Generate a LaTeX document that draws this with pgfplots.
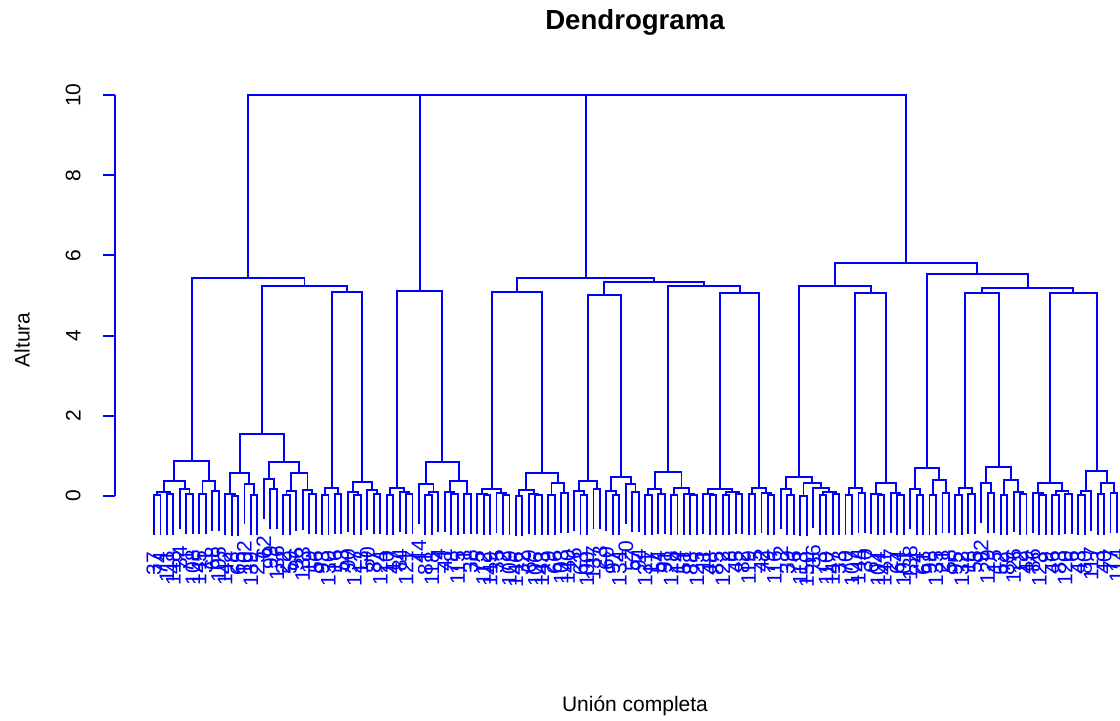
\documentclass[border=0pt]{standalone}
\usepackage{fontspec}
\setmainfont{Liberation Sans}
\usepackage{pgfplots}
\pgfplotsset{compat=1.18}
\definecolor{dendblue}{RGB}{0,0,255}

\begin{document}
\begin{tikzpicture}[x=0.5pt,y=0.5pt]
\path[use as bounding box] (0,0) rectangle (1120,720);
\clip (0,0) rectangle (1120,720);
\begin{axis}[
  at={(57.5pt,112pt)}, anchor=south west,
  scale only axis, width=502.5pt, height=200.5pt,
  xmin=-5.034, xmax=150.47, ymin=0, ymax=10,
  clip=false,
  axis x line=none,
  axis y line*=left,
  y axis line style={dendblue, line width=0.95pt},
  ytick={0,2,4,6,8,10},
  tick align=outside,
  major tick length=6pt,
  ytick style={dendblue, line width=0.95pt},
  yticklabel style={rotate=90, anchor=south, font=\fontsize{10.5}{12}\selectfont, inner sep=0pt},
  yticklabel shift=11pt,
  /pgf/number format/assume math mode=true,
]
% every merge is one U: left child (x,h), up to the merge height, across, down to the right child
\addplot[dendblue, line width=0.95pt, mark=none, unbounded coords=jump, forget plot]
table[row sep=\\] {
x y\\
1 -0.98\\ 1 0.02\\ 2 0.02\\ 2 -0.98\\ nan nan\\
3 -0.96\\ 3 0.04\\ 4 0.04\\ 4 -0.96\\ nan nan\\
1.5 0.02\\ 1.5 0.10\\ 3.5 0.10\\ 3.5 0.04\\ nan nan\\
6 -0.94\\ 6 0.06\\ 7 0.06\\ 7 -0.94\\ nan nan\\
5 -0.83\\ 5 0.17\\ 6.5 0.17\\ 6.5 0.06\\ nan nan\\
2.5 0.10\\ 2.5 0.37\\ 5.75 0.37\\ 5.75 0.17\\ nan nan\\
8 -0.95\\ 8 0.05\\ 9 0.05\\ 9 -0.95\\ nan nan\\
10 -0.87\\ 10 0.13\\ 11 0.13\\ 11 -0.87\\ nan nan\\
8.5 0.05\\ 8.5 0.37\\ 10.5 0.37\\ 10.5 0.13\\ nan nan\\
4.125 0.37\\ 4.125 0.87\\ 9.5 0.87\\ 9.5 0.37\\ nan nan\\
13 -0.99\\ 13 0.01\\ 14 0.01\\ 14 -0.99\\ nan nan\\
12 -0.96\\ 12 0.04\\ 13.5 0.04\\ 13.5 0.01\\ nan nan\\
16 -0.98\\ 16 0.02\\ 17 0.02\\ 17 -0.98\\ nan nan\\
15 -0.70\\ 15 0.30\\ 16.5 0.30\\ 16.5 0.02\\ nan nan\\
12.75 0.04\\ 12.75 0.57\\ 15.75 0.57\\ 15.75 0.30\\ nan nan\\
19 -0.83\\ 19 0.17\\ 20 0.17\\ 20 -0.83\\ nan nan\\
18 -0.58\\ 18 0.42\\ 19.5 0.42\\ 19.5 0.17\\ nan nan\\
21 -0.97\\ 21 0.03\\ 22 0.03\\ 22 -0.97\\ nan nan\\
21.5 0.03\\ 21.5 0.12\\ 23 0.12\\ 23 -0.88\\ nan nan\\
25 -0.95\\ 25 0.05\\ 26 0.05\\ 26 -0.95\\ nan nan\\
24 -0.85\\ 24 0.15\\ 25.5 0.15\\ 25.5 0.05\\ nan nan\\
22.25 0.12\\ 22.25 0.57\\ 24.75 0.57\\ 24.75 0.15\\ nan nan\\
18.75 0.42\\ 18.75 0.84\\ 23.5 0.84\\ 23.5 0.57\\ nan nan\\
14.25 0.57\\ 14.25 1.55\\ 21.125 1.55\\ 21.125 0.84\\ nan nan\\
27 -0.97\\ 27 0.03\\ 28 0.03\\ 28 -0.97\\ nan nan\\
29 -0.94\\ 29 0.06\\ 30 0.06\\ 30 -0.94\\ nan nan\\
27.5 0.03\\ 27.5 0.19\\ 29.5 0.19\\ 29.5 0.06\\ nan nan\\
32 -0.97\\ 32 0.03\\ 33 0.03\\ 33 -0.97\\ nan nan\\
31 -0.90\\ 31 0.10\\ 32.5 0.10\\ 32.5 0.03\\ nan nan\\
35 -0.95\\ 35 0.05\\ 36 0.05\\ 36 -0.95\\ nan nan\\
34 -0.86\\ 34 0.14\\ 35.5 0.14\\ 35.5 0.05\\ nan nan\\
31.75 0.10\\ 31.75 0.34\\ 34.75 0.34\\ 34.75 0.14\\ nan nan\\
28.5 0.19\\ 28.5 5.09\\ 33.25 5.09\\ 33.25 0.34\\ nan nan\\
17.6875 1.55\\ 17.6875 5.24\\ 30.875 5.24\\ 30.875 5.09\\ nan nan\\
6.8125 0.87\\ 6.8125 5.44\\ 24.28125 5.44\\ 24.28125 5.24\\ nan nan\\
37 -0.97\\ 37 0.03\\ 38 0.03\\ 38 -0.97\\ nan nan\\
40 -0.95\\ 40 0.05\\ 41 0.05\\ 41 -0.95\\ nan nan\\
39 -0.90\\ 39 0.10\\ 40.5 0.10\\ 40.5 0.05\\ nan nan\\
37.5 0.03\\ 37.5 0.20\\ 39.75 0.20\\ 39.75 0.10\\ nan nan\\
43 -0.98\\ 43 0.02\\ 44 0.02\\ 44 -0.98\\ nan nan\\
43.5 0.02\\ 43.5 0.10\\ 45 0.10\\ 45 -0.90\\ nan nan\\
42 -0.69\\ 42 0.31\\ 44.25 0.31\\ 44.25 0.10\\ nan nan\\
47 -0.96\\ 47 0.04\\ 48 0.04\\ 48 -0.96\\ nan nan\\
46 -0.90\\ 46 0.10\\ 47.5 0.10\\ 47.5 0.04\\ nan nan\\
49 -0.94\\ 49 0.06\\ 50 0.06\\ 50 -0.94\\ nan nan\\
46.75 0.10\\ 46.75 0.37\\ 49.5 0.37\\ 49.5 0.06\\ nan nan\\
43.125 0.31\\ 43.125 0.84\\ 48.125 0.84\\ 48.125 0.37\\ nan nan\\
38.625 0.20\\ 38.625 5.11\\ 45.625 5.11\\ 45.625 0.84\\ nan nan\\
52 -0.98\\ 52 0.02\\ 53 0.02\\ 53 -0.98\\ nan nan\\
51 -0.95\\ 51 0.05\\ 52.5 0.05\\ 52.5 0.02\\ nan nan\\
55 -0.97\\ 55 0.03\\ 56 0.03\\ 56 -0.97\\ nan nan\\
54 -0.93\\ 54 0.07\\ 55.5 0.07\\ 55.5 0.03\\ nan nan\\
51.75 0.05\\ 51.75 0.17\\ 54.75 0.17\\ 54.75 0.07\\ nan nan\\
57 -0.99\\ 57 0.01\\ 58 0.01\\ 58 -0.99\\ nan nan\\
60 -0.98\\ 60 0.02\\ 61 0.02\\ 61 -0.98\\ nan nan\\
59 -0.94\\ 59 0.06\\ 60.5 0.06\\ 60.5 0.02\\ nan nan\\
57.5 0.01\\ 57.5 0.14\\ 59.75 0.14\\ 59.75 0.06\\ nan nan\\
62 -0.97\\ 62 0.03\\ 63 0.03\\ 63 -0.97\\ nan nan\\
64 -0.93\\ 64 0.07\\ 65 0.07\\ 65 -0.93\\ nan nan\\
62.5 0.03\\ 62.5 0.32\\ 64.5 0.32\\ 64.5 0.07\\ nan nan\\
58.625 0.14\\ 58.625 0.57\\ 63.5 0.57\\ 63.5 0.32\\ nan nan\\
53.25 0.17\\ 53.25 5.09\\ 61.0625 5.09\\ 61.0625 0.57\\ nan nan\\
67 -0.98\\ 67 0.02\\ 68 0.02\\ 68 -0.98\\ nan nan\\
66 -0.88\\ 66 0.12\\ 67.5 0.12\\ 67.5 0.02\\ nan nan\\
69 -0.83\\ 69 0.17\\ 70 0.17\\ 70 -0.83\\ nan nan\\
66.75 0.12\\ 66.75 0.37\\ 69.5 0.37\\ 69.5 0.17\\ nan nan\\
72 -0.97\\ 72 0.03\\ 73 0.03\\ 73 -0.97\\ nan nan\\
71 -0.87\\ 71 0.13\\ 72.5 0.13\\ 72.5 0.03\\ nan nan\\
75 -0.90\\ 75 0.10\\ 76 0.10\\ 76 -0.90\\ nan nan\\
74 -0.70\\ 74 0.30\\ 75.5 0.30\\ 75.5 0.10\\ nan nan\\
71.75 0.13\\ 71.75 0.48\\ 74.75 0.48\\ 74.75 0.30\\ nan nan\\
68.125 0.37\\ 68.125 5.01\\ 73.25 5.01\\ 73.25 0.48\\ nan nan\\
77 -0.98\\ 77 0.02\\ 78 0.02\\ 78 -0.98\\ nan nan\\
79 -0.95\\ 79 0.05\\ 80 0.05\\ 80 -0.95\\ nan nan\\
77.5 0.02\\ 77.5 0.17\\ 79.5 0.17\\ 79.5 0.05\\ nan nan\\
81 -0.97\\ 81 0.03\\ 82 0.03\\ 82 -0.97\\ nan nan\\
84 -0.98\\ 84 0.02\\ 85 0.02\\ 85 -0.98\\ nan nan\\
83 -0.96\\ 83 0.04\\ 84.5 0.04\\ 84.5 0.02\\ nan nan\\
81.5 0.03\\ 81.5 0.20\\ 83.75 0.20\\ 83.75 0.04\\ nan nan\\
78.5 0.17\\ 78.5 0.59\\ 82.625 0.59\\ 82.625 0.20\\ nan nan\\
87 -0.98\\ 87 0.02\\ 88 0.02\\ 88 -0.98\\ nan nan\\
86 -0.94\\ 86 0.06\\ 87.5 0.06\\ 87.5 0.02\\ nan nan\\
89 -0.97\\ 89 0.03\\ 90 0.03\\ 90 -0.97\\ nan nan\\
91 -0.95\\ 91 0.05\\ 92 0.05\\ 92 -0.95\\ nan nan\\
89.5 0.03\\ 89.5 0.09\\ 91.5 0.09\\ 91.5 0.05\\ nan nan\\
86.75 0.06\\ 86.75 0.17\\ 90.5 0.17\\ 90.5 0.09\\ nan nan\\
93 -0.96\\ 93 0.04\\ 94 0.04\\ 94 -0.96\\ nan nan\\
96 -0.97\\ 96 0.03\\ 97 0.03\\ 97 -0.97\\ nan nan\\
95 -0.92\\ 95 0.08\\ 96.5 0.08\\ 96.5 0.03\\ nan nan\\
93.5 0.04\\ 93.5 0.19\\ 95.75 0.19\\ 95.75 0.08\\ nan nan\\
88.625 0.17\\ 88.625 5.06\\ 94.625 5.06\\ 94.625 0.19\\ nan nan\\
80.5625 0.59\\ 80.5625 5.24\\ 91.625 5.24\\ 91.625 5.06\\ nan nan\\
70.6875 5.01\\ 70.6875 5.34\\ 86.09375 5.34\\ 86.09375 5.24\\ nan nan\\
57.15625 5.09\\ 57.15625 5.44\\ 78.390625 5.44\\ 78.390625 5.34\\ nan nan\\
99 -0.97\\ 99 0.03\\ 100 0.03\\ 100 -0.97\\ nan nan\\
98 -0.83\\ 98 0.17\\ 99.5 0.17\\ 99.5 0.03\\ nan nan\\
101 -0.99\\ 101 0.01\\ 102 0.01\\ 102 -0.99\\ nan nan\\
104 -0.98\\ 104 0.02\\ 105 0.02\\ 105 -0.98\\ nan nan\\
106 -0.96\\ 106 0.04\\ 107 0.04\\ 107 -0.96\\ nan nan\\
104.5 0.02\\ 104.5 0.09\\ 106.5 0.09\\ 106.5 0.04\\ nan nan\\
103 -0.81\\ 103 0.19\\ 105.5 0.19\\ 105.5 0.09\\ nan nan\\
101.5 0.01\\ 101.5 0.33\\ 104.25 0.33\\ 104.25 0.19\\ nan nan\\
98.75 0.17\\ 98.75 0.48\\ 102.875 0.48\\ 102.875 0.33\\ nan nan\\
108 -0.97\\ 108 0.03\\ 109 0.03\\ 109 -0.97\\ nan nan\\
110 -0.92\\ 110 0.08\\ 111 0.08\\ 111 -0.92\\ nan nan\\
108.5 0.03\\ 108.5 0.19\\ 110.5 0.19\\ 110.5 0.08\\ nan nan\\
113 -0.98\\ 113 0.02\\ 114 0.02\\ 114 -0.98\\ nan nan\\
112 -0.94\\ 112 0.06\\ 113.5 0.06\\ 113.5 0.02\\ nan nan\\
116 -0.97\\ 116 0.03\\ 117 0.03\\ 117 -0.97\\ nan nan\\
115 -0.92\\ 115 0.08\\ 116.5 0.08\\ 116.5 0.03\\ nan nan\\
112.75 0.06\\ 112.75 0.32\\ 115.75 0.32\\ 115.75 0.08\\ nan nan\\
109.5 0.19\\ 109.5 5.06\\ 114.25 5.06\\ 114.25 0.32\\ nan nan\\
100.8125 0.48\\ 100.8125 5.24\\ 111.875 5.24\\ 111.875 5.06\\ nan nan\\
119 -0.98\\ 119 0.02\\ 120 0.02\\ 120 -0.98\\ nan nan\\
118 -0.83\\ 118 0.17\\ 119.5 0.17\\ 119.5 0.02\\ nan nan\\
121 -0.97\\ 121 0.03\\ 122 0.03\\ 122 -0.97\\ nan nan\\
123 -0.93\\ 123 0.07\\ 124 0.07\\ 124 -0.93\\ nan nan\\
121.5 0.03\\ 121.5 0.40\\ 123.5 0.40\\ 123.5 0.07\\ nan nan\\
118.75 0.17\\ 118.75 0.69\\ 122.5 0.69\\ 122.5 0.40\\ nan nan\\
125 -0.98\\ 125 0.02\\ 126 0.02\\ 126 -0.98\\ nan nan\\
127 -0.95\\ 127 0.05\\ 128 0.05\\ 128 -0.95\\ nan nan\\
125.5 0.02\\ 125.5 0.19\\ 127.5 0.19\\ 127.5 0.05\\ nan nan\\
130 -0.93\\ 130 0.07\\ 131 0.07\\ 131 -0.93\\ nan nan\\
129 -0.68\\ 129 0.32\\ 130.5 0.32\\ 130.5 0.07\\ nan nan\\
132 -0.98\\ 132 0.02\\ 133 0.02\\ 133 -0.98\\ nan nan\\
135 -0.96\\ 135 0.04\\ 136 0.04\\ 136 -0.96\\ nan nan\\
134 -0.90\\ 134 0.10\\ 135.5 0.10\\ 135.5 0.04\\ nan nan\\
132.5 0.02\\ 132.5 0.40\\ 134.75 0.40\\ 134.75 0.10\\ nan nan\\
129.75 0.32\\ 129.75 0.73\\ 133.625 0.73\\ 133.625 0.40\\ nan nan\\
126.5 0.19\\ 126.5 5.06\\ 131.6875 5.06\\ 131.6875 0.73\\ nan nan\\
138 -0.98\\ 138 0.02\\ 139 0.02\\ 139 -0.98\\ nan nan\\
137 -0.92\\ 137 0.08\\ 138.5 0.08\\ 138.5 0.02\\ nan nan\\
140 -0.97\\ 140 0.03\\ 141 0.03\\ 141 -0.97\\ nan nan\\
142 -0.95\\ 142 0.05\\ 143 0.05\\ 143 -0.95\\ nan nan\\
140.5 0.03\\ 140.5 0.12\\ 142.5 0.12\\ 142.5 0.05\\ nan nan\\
137.75 0.08\\ 137.75 0.32\\ 141.5 0.32\\ 141.5 0.12\\ nan nan\\
144 -0.97\\ 144 0.03\\ 145 0.03\\ 145 -0.97\\ nan nan\\
144.5 0.03\\ 144.5 0.13\\ 146 0.13\\ 146 -0.87\\ nan nan\\
147 -0.96\\ 147 0.04\\ 148 0.04\\ 148 -0.96\\ nan nan\\
149 -0.92\\ 149 0.08\\ 150 0.08\\ 150 -0.92\\ nan nan\\
147.5 0.04\\ 147.5 0.33\\ 149.5 0.33\\ 149.5 0.08\\ nan nan\\
145.25 0.13\\ 145.25 0.62\\ 148.5 0.62\\ 148.5 0.33\\ nan nan\\
139.625 0.32\\ 139.625 5.06\\ 146.875 5.06\\ 146.875 0.62\\ nan nan\\
129.09375 5.06\\ 129.09375 5.19\\ 143.25 5.19\\ 143.25 5.06\\ nan nan\\
120.625 0.69\\ 120.625 5.54\\ 136.171875 5.54\\ 136.171875 5.19\\ nan nan\\
106.34375 5.24\\ 106.34375 5.81\\ 128.3984375 5.81\\ 128.3984375 5.54\\ nan nan\\
15.546875 5.44\\ 15.546875 10\\ 42.125 10\\ 42.125 5.11\\ nan nan\\
28.8359375 10\\ 67.84 10\\ 67.84 5.44\\ nan nan\\
48.3046875 10\\ 117.37109375 10\\ 117.37109375 5.81\\
};
% leaf labels, hung below each leaf
\addplot[only marks, mark=none, forget plot,
  nodes near coords, point meta=explicit symbolic,
  nodes near coords style={rotate=90, anchor=east, text=dendblue,
    font=\fontsize{10.5}{12}\selectfont, inner xsep=8pt, inner ysep=0pt}]
table[meta=lab] {
x y lab
1 -0.98 37
2 -0.98 74
3 -0.96 111
4 -0.96 148
5 -0.83 34
6 -0.94 71
7 -0.94 108
8 -0.95 145
9 -0.95 31
10 -0.87 68
11 -0.87 105
12 -0.96 142
13 -0.99 28
14 -0.99 65
15 -0.70 102
16 -0.98 139
17 -0.98 25
18 -0.58 62
19 -0.83 99
20 -0.83 136
21 -0.97 22
22 -0.97 59
23 -0.88 96
24 -0.85 133
25 -0.95 19
26 -0.95 56
27 -0.97 93
28 -0.97 130
29 -0.94 16
30 -0.94 53
31 -0.90 90
32 -0.97 127
33 -0.97 13
34 -0.86 50
35 -0.95 87
36 -0.95 124
37 -0.97 10
38 -0.97 47
39 -0.90 84
40 -0.95 121
41 -0.95 7
42 -0.69 44
43 -0.98 81
44 -0.98 118
45 -0.90 4
46 -0.90 41
47 -0.96 78
48 -0.96 115
49 -0.94 1
50 -0.94 38
51 -0.95 75
52 -0.98 112
53 -0.98 149
54 -0.93 35
55 -0.97 72
56 -0.97 109
57 -0.99 146
58 -0.99 32
59 -0.94 69
60 -0.98 106
61 -0.98 143
62 -0.97 29
63 -0.97 66
64 -0.93 103
65 -0.93 140
66 -0.88 26
67 -0.98 63
68 -0.98 100
69 -0.83 137
70 -0.83 23
71 -0.87 60
72 -0.97 97
73 -0.97 134
74 -0.70 20
75 -0.90 57
76 -0.90 94
77 -0.98 131
78 -0.98 17
79 -0.95 54
80 -0.95 91
81 -0.97 128
82 -0.97 14
83 -0.96 51
84 -0.98 88
85 -0.98 125
86 -0.94 11
87 -0.98 48
88 -0.98 85
89 -0.97 122
90 -0.97 8
91 -0.95 45
92 -0.95 82
93 -0.96 119
94 -0.96 5
95 -0.92 42
96 -0.97 79
97 -0.97 116
98 -0.83 2
99 -0.97 39
100 -0.97 76
101 -0.99 113
102 -0.99 150
103 -0.81 36
104 -0.98 73
105 -0.98 110
106 -0.96 147
107 -0.96 33
108 -0.97 70
109 -0.97 107
110 -0.92 144
111 -0.92 30
112 -0.94 67
113 -0.98 104
114 -0.98 141
115 -0.92 27
116 -0.97 64
117 -0.97 101
118 -0.83 138
119 -0.98 24
120 -0.98 61
121 -0.97 98
122 -0.97 135
123 -0.93 21
124 -0.93 58
125 -0.98 95
126 -0.98 132
127 -0.95 18
128 -0.95 55
129 -0.68 92
130 -0.93 129
131 -0.93 15
132 -0.98 52
133 -0.98 89
134 -0.90 126
135 -0.96 12
136 -0.96 49
137 -0.92 86
138 -0.98 123
139 -0.98 9
140 -0.97 46
141 -0.97 83
142 -0.95 120
143 -0.95 6
144 -0.97 43
145 -0.97 80
146 -0.87 117
147 -0.96 3
148 -0.96 40
149 -0.92 77
150 -0.92 114
};
\end{axis}
\node[font=\bfseries\fontsize{13.8}{16}\selectfont] at (635,698) {Dendrograma};
\node[font=\fontsize{10.5}{12}\selectfont] at (635,14) {Unión completa};
\node[rotate=90, font=\fontsize{10.5}{12}\selectfont] at (22,380) {Altura};
\end{tikzpicture}
\end{document}
